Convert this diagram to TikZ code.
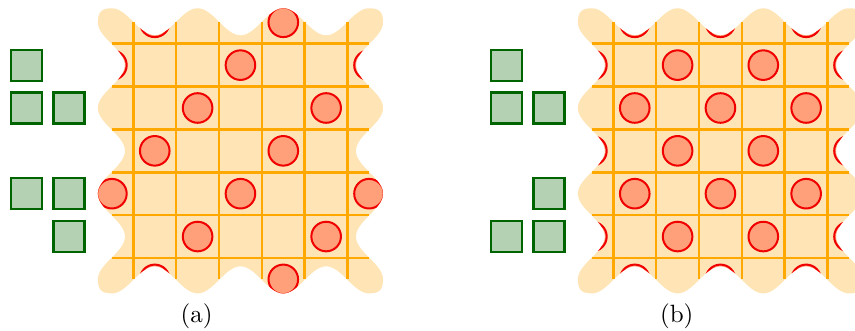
\documentclass[tikz,border=0pt]{standalone}
\definecolor{blobfill}{RGB}{255,228,181}
\definecolor{gridor}{RGB}{255,168,0}
\definecolor{discfill}{RGB}{255,160,122}
\definecolor{discedge}{RGB}{240,0,0}
\definecolor{sqfill}{RGB}{180,209,180}
\definecolor{sqedge}{RGB}{0,100,0}
\newcommand\CellD{42.85}
\newcommand\BlobM{0.5}
\newcommand\BlobA{13.5}
\newcommand\BlobR{14}
\newcommand\BlobK{0.75}
\newcommand\blobpath{%
 (0,\BlobR)
 -- plot[variable=\t,domain=0:6,samples=145] ({\t*\CellD},{\BlobM+\BlobA*cos(180*\t)})
 .. controls +(\BlobK*\BlobR,0) and +(0,\BlobK*\BlobR) .. (6*\CellD+\BlobR,0)
 -- plot[variable=\t,domain=0:6,samples=145] ({6*\CellD+\BlobM+\BlobA*cos(180*\t)},{-\t*\CellD})
 .. controls +(0,-\BlobK*\BlobR) and +(\BlobK*\BlobR,0) .. (6*\CellD,-6*\CellD-\BlobR)
 -- plot[variable=\t,domain=0:6,samples=145] ({(6-\t)*\CellD},{-6*\CellD-\BlobM-\BlobA*cos(180*\t)})
 .. controls +(-\BlobK*\BlobR,0) and +(0,-\BlobK*\BlobR) .. (-\BlobR,-6*\CellD)
 -- plot[variable=\t,domain=0:6,samples=145] ({-\BlobM-\BlobA*cos(180*\t)},{-(6-\t)*\CellD})
 .. controls +(0,\BlobK*\BlobR) and +(-\BlobK*\BlobR,0) .. (0,\BlobR) -- cycle}
\tikzset{
  gridline/.style={draw=gridor, line width=1pt},
  disc/.style={draw=discedge, fill=discfill, line width=0.8pt},
  sqbox/.style={draw=sqedge, fill=sqfill, line width=0.85pt, minimum size=12.4pt, inner sep=0pt, shape=rectangle},
  lbl/.style={font=\fontsize{10}{12}\selectfont, inner sep=0pt}
}
\begin{document}
\begin{tikzpicture}[x=0.4pt,y=0.4pt]
\useasboundingbox (0,0) rectangle (855,331);
% ---------- panel (a)
\begin{scope}[shift={(111.9,308.7)}]
  \fill[blobfill] \blobpath;
  \foreach \i in {0,...,5} {
    \draw[gridline] (0,{-(\i+0.5)*\CellD}) -- ({6*\CellD},{-(\i+0.5)*\CellD});
    \draw[gridline] ({(\i+0.5)*\CellD},0) -- ({(\i+0.5)*\CellD},{-6*\CellD});
  }
  \begin{scope}
    \clip \blobpath;
    \foreach \c in {0,...,6} {
      \foreach \r in {0,...,6} {
        \pgfmathtruncatemacro\s{mod(\c+\r,3)}
        \ifnum\s=1
          \draw[disc] ({\c*\CellD},{-\r*\CellD}) circle[radius=14.8];
        \fi
      }
    }
  \end{scope}
  \node[sqbox] (a1) at ({-2*\CellD},{-1*\CellD}) {};
  \node[sqbox] (a2) at ({-2*\CellD},{-2*\CellD}) {};
  \node[sqbox] (a3) at ({-1*\CellD},{-2*\CellD}) {};
  \node[sqbox] (a4) at ({-2*\CellD},{-4*\CellD}) {};
  \node[sqbox] (a5) at ({-1*\CellD},{-4*\CellD}) {};
  \node[sqbox] (a6) at ({-1*\CellD},{-5*\CellD}) {};
\end{scope}
% ---------- panel (b)
\begin{scope}[shift={(591.9,308.7)}]
  \fill[blobfill] \blobpath;
  \foreach \i in {0,...,5} {
    \draw[gridline] (0,{-(\i+0.5)*\CellD}) -- ({6*\CellD},{-(\i+0.5)*\CellD});
    \draw[gridline] ({(\i+0.5)*\CellD},0) -- ({(\i+0.5)*\CellD},{-6*\CellD});
  }
  \begin{scope}
    \clip \blobpath;
    \foreach \c in {0,...,6} {
      \foreach \r in {0,...,6} {
        \pgfmathtruncatemacro\s{mod(\c+\r,2)}
        \ifnum\s=1
          \draw[disc] ({\c*\CellD},{-\r*\CellD}) circle[radius=14.8];
        \fi
      }
    }
  \end{scope}
  \node[sqbox] (b1) at ({-2*\CellD},{-1*\CellD}) {};
  \node[sqbox] (b2) at ({-2*\CellD},{-2*\CellD}) {};
  \node[sqbox] (b3) at ({-1*\CellD},{-2*\CellD}) {};
  \node[sqbox] (b4) at ({-1*\CellD},{-4*\CellD}) {};
  \node[sqbox] (b5) at ({-2*\CellD},{-5*\CellD}) {};
  \node[sqbox] (b6) at ({-1*\CellD},{-5*\CellD}) {};
\end{scope}
\node[lbl] (la) at (196.7,15) {(a)};
\node[lbl] (lb) at (676.7,15) {(b)};
\end{tikzpicture}
\end{document}
